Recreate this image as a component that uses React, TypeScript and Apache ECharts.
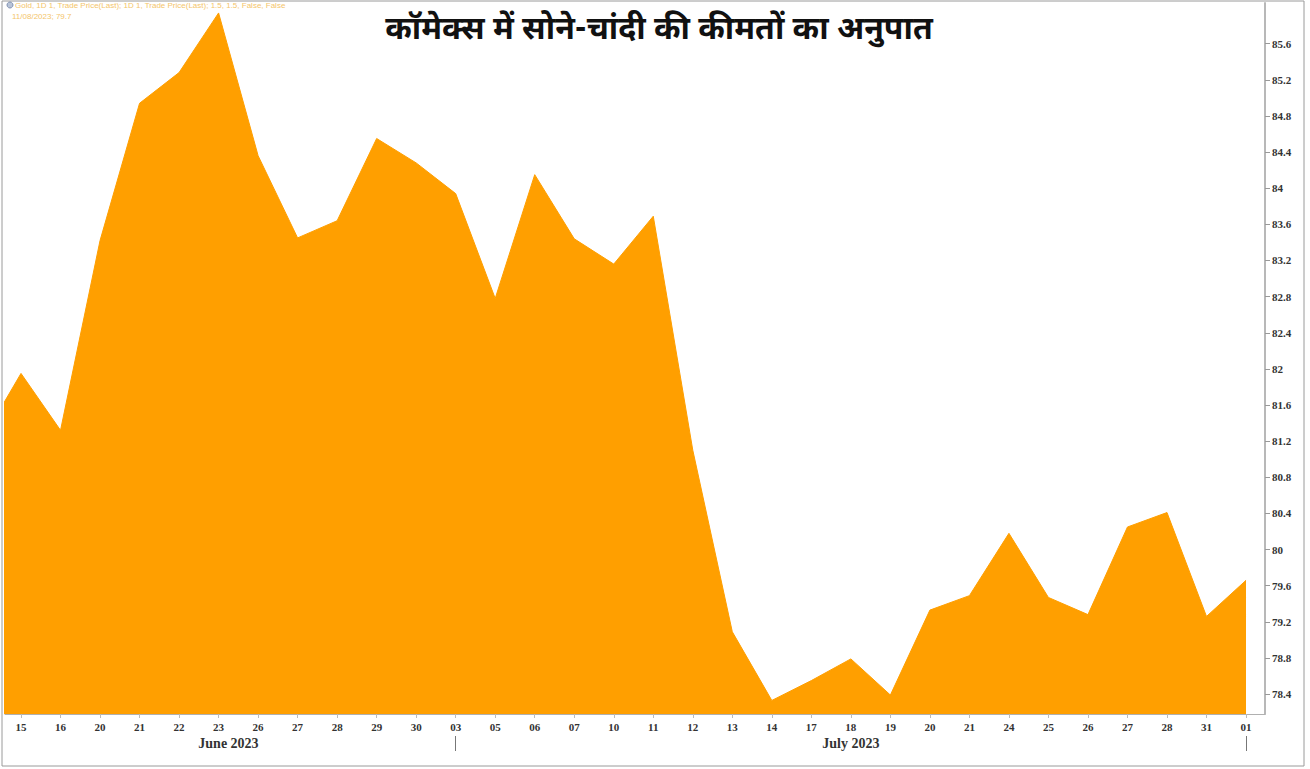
import React, { useEffect, useRef } from "react";
import * as echarts from "echarts";

const titleText = "कॉमेक्स में सोने-चांदी की कीमतों का अनुपात";
const dayLabels = [
  "15", "16", "20", "21", "22", "23", "26", "27", "28", "29", "30",
  "03", "05", "06", "07", "10", "11", "12", "13", "14", "17", "18", "19",
  "20", "21", "24", "25", "26", "27", "28", "31", "01",
];
// value of the session before the first visible one (partly clipped at the left edge)
const prevValue = 81.2;
const ratioValues = [
  81.95, 81.32, 83.42, 84.94, 85.28, 85.94, 84.36, 83.45, 83.64, 84.55, 84.28,
  83.94, 82.78, 84.15, 83.44, 83.16, 83.69, 81.1, 79.09, 78.33, 78.55, 78.79, 78.39,
  79.33, 79.49, 80.18, 79.47, 79.28, 80.25, 80.41, 79.26, 79.66,
];
const yTicks = [78.4, 78.8, 79.2, 79.6, 80, 80.4, 80.8, 81.2, 81.6, 82, 82.4, 82.8, 83.2, 83.6, 84, 84.4, 84.8, 85.2, 85.6];
const monthNames = ["June 2023", "July 2023"];
const monthCenters = [5.25, 21];
const monthStarts = [11, 31];
const legendLine1 = "Gold, 1D 1, Trade Price(Last); 1D 1, Trade Price(Last); 1.5, 1.5, False, False";
const legendLine2 = "11/08/2023; 79.7";

export default function App() {
  const ref = useRef<HTMLDivElement>(null);
  useEffect(() => {
    if (!ref.current) return;
    const chart = echarts.init(ref.current, null, { renderer: "svg" });
    const data: [number, number][] = [[-1, prevValue]];
    ratioValues.forEach((v, i) => data.push([i, v]));
    const idx = dayLabels.map((_, i) => i);
    const xMin = -0.405;
    const xMax = 31.48;
    chart.setOption({
      animation: false,
      backgroundColor: "#ffffff",
      grid: { left: 5, right: 45, top: 3, bottom: 55 },
      title: {
        text: titleText,
        left: 654,
        textAlign: "center",
        top: 10,
        textStyle: {
          fontSize: 32,
          fontWeight: "bold",
          color: "#111",
          fontFamily: "'Noto Sans Devanagari', 'Noto Sans', sans-serif",
        },
      },
      graphic: [
        {
          type: "rect",
          shape: { x: 2, y: 1, width: 1302, height: 765 },
          style: { fill: "none", stroke: "#9a9a9a", lineWidth: 1 },
          silent: true,
        },
        {
          type: "circle",
          shape: { cx: 10, cy: 5, r: 3 },
          style: { fill: "#b8c4d8", stroke: "#8090b0" },
          z: 10,
        },
        {
          type: "text",
          left: 15,
          top: 1,
          style: { text: legendLine1, fontSize: 8, fill: "#f4c56a", fontFamily: "Liberation Sans" },
          z: 10,
        },
        {
          type: "text",
          left: 12,
          top: 12,
          style: { text: legendLine2, fontSize: 8, fill: "#f4c56a", fontFamily: "Liberation Sans" },
          z: 10,
        },
      ],
      xAxis: [
        {
          type: "value",
          min: xMin,
          max: xMax,
          position: "bottom",
          axisLine: { show: true, onZero: false, lineStyle: { color: "#b0b0b0" } },
          axisTick: { show: true, customValues: idx, length: 4, lineStyle: { color: "#bbbbbb" } },
          axisLabel: {
            customValues: idx,
            formatter: (v: number) => dayLabels[Math.round(v)] ?? "",
            fontSize: 11,
            fontWeight: "bold",
            color: "#333",
            fontFamily: "'Liberation Serif', serif",
            margin: 7,
          },
          splitLine: { show: false },
        },
        {
          type: "value",
          min: xMin,
          max: xMax,
          position: "bottom",
          offset: 22,
          axisLine: { show: false, onZero: false },
          axisTick: { show: true, customValues: monthStarts, length: 15, lineStyle: { color: "#777" } },
          axisLabel: {
            customValues: monthCenters,
            formatter: (v: number) => {
              const k = monthCenters.indexOf(v);
              return k >= 0 ? monthNames[k] : "";
            },
            fontSize: 14,
            fontWeight: "bold",
            color: "#333",
            fontFamily: "'Liberation Serif', serif",
            margin: 0,
          },
          splitLine: { show: false },
        },
      ],
      yAxis: {
        type: "value",
        position: "right",
        min: 78.18,
        max: 86.05,
        axisLine: { show: true, onZero: false, lineStyle: { color: "#b8b8b8", width: 2 } },
        axisTick: { show: true, customValues: yTicks, length: 5, lineStyle: { color: "#999" } },
        axisLabel: {
          customValues: yTicks,
          fontSize: 11,
          fontWeight: "bold",
          color: "#333",
          fontFamily: "'Liberation Serif', serif",
          margin: 7,
        },
        splitLine: { show: false },
      },
      series: [
        {
          type: "line",
          data,
          xAxisIndex: 0,
          symbol: "none",
          clip: true,
          lineStyle: { color: "#ff9f00", width: 1 },
          areaStyle: { color: "#ff9f00", opacity: 1, origin: "start" },
        },
      ],
    });
    return () => chart.dispose();
  }, []);
  return (
    <div
      ref={ref}
      style={{ position: "fixed", left: 0, top: 0, width: 1310, height: 769 }}
    />
  );
}
